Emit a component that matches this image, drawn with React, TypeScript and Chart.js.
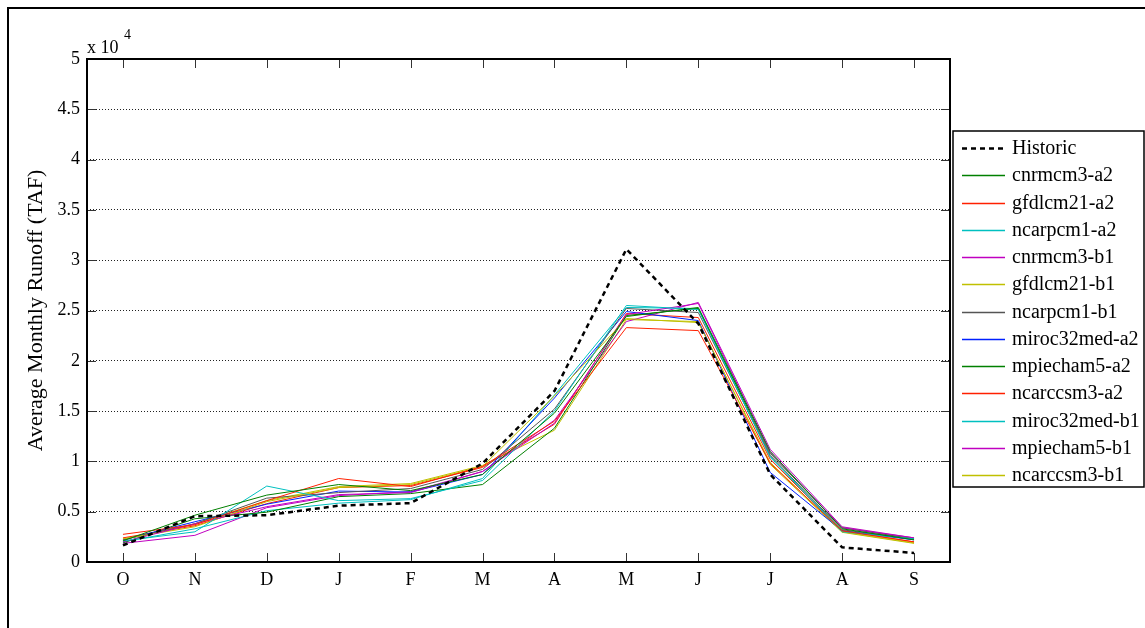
import React, { useEffect, useRef } from "react";
import { Chart, registerables } from "chart.js";

Chart.register(...registerables);

const months = ["O", "N", "D", "J", "F", "M", "A", "M", "J", "J", "A", "S"];

const historic = [1650, 4550, 4650, 5600, 5850, 9800, 17000, 31100, 23700, 8700, 1450, 900];
const cnrmcm3A2 = [2100, 4650, 6650, 7700, 7100, 8700, 14800, 24400, 25300, 11000, 3300, 2200];
const gfdlcm21A2 = [2750, 3700, 6100, 8300, 7500, 9500, 14000, 23300, 23000, 9800, 3100, 2000];
const ncarpcm1A2 = [2100, 3000, 7550, 6100, 6300, 8100, 15000, 25500, 25100, 10400, 3000, 2300];
const cnrmcm3B1 = [2000, 3800, 5500, 6700, 6900, 9000, 13800, 24600, 25700, 10900, 3400, 2400];
const gfdlcm21B1 = [2300, 3500, 6000, 7400, 7700, 9500, 16500, 24200, 23800, 9900, 3000, 1900];
const ncarpcm1B1 = [2200, 3800, 6350, 6900, 7300, 9200, 15200, 25200, 24800, 10600, 3200, 2300];
const miroc32medA2 = [2200, 4000, 5750, 7050, 6950, 8700, 16300, 24900, 24000, 8900, 3100, 2200];
const mpiecham5A2 = [1900, 4300, 4950, 6500, 6800, 7700, 13300, 24500, 25200, 10800, 3400, 2300];
const ncarccsm3A2 = [2400, 3600, 5800, 7400, 7600, 9400, 13700, 24700, 24300, 10200, 3100, 2000];
const miroc32medB1 = [2000, 3300, 5100, 5850, 6200, 8300, 16600, 25300, 25200, 10500, 3100, 2300];
const mpiecham5B1 = [1850, 2650, 5400, 6600, 7000, 9000, 14100, 23900, 25800, 11200, 3500, 2400];
const ncarccsm3B1 = [2300, 3800, 6100, 7500, 7800, 9600, 13100, 24100, 23900, 9700, 2950, 1850];

const seriesNames = [
  "cnrmcm3-a2", "gfdlcm21-a2", "ncarpcm1-a2", "cnrmcm3-b1", "gfdlcm21-b1", "ncarpcm1-b1",
  "miroc32med-a2", "mpiecham5-a2", "ncarccsm3-a2", "miroc32med-b1", "mpiecham5-b1", "ncarccsm3-b1",
];
const seriesValues = [
  cnrmcm3A2, gfdlcm21A2, ncarpcm1A2, cnrmcm3B1, gfdlcm21B1, ncarpcm1B1,
  miroc32medA2, mpiecham5A2, ncarccsm3A2, miroc32medB1, mpiecham5B1, ncarccsm3B1,
];
const seriesColors = [
  "#008000", "#ff2000", "#00c0c0", "#c000c0", "#c0c000", "#555555",
  "#0020ff", "#008000", "#ff2000", "#00c0c0", "#c000c0", "#c0c000",
];

const yTitle = "Average Monthly Runoff (TAF)";
const FONT = "'Liberation Serif', 'Times New Roman', serif";

const decorPlugin = {
  id: "decor",
  afterDraw(chart: any) {
    const { ctx, chartArea: ca } = chart;
    const xs = chart.scales.x;
    const ys = chart.scales.y;
    ctx.save();
    // outer frame
    ctx.fillStyle = "#000";
    ctx.fillRect(7, 7, chart.width - 7, 2);
    ctx.fillRect(7, 7, 2, chart.height - 7);

    // inward ticks
    ctx.strokeStyle = "#333";
    ctx.lineWidth = 1;
    ctx.setLineDash([]);
    ctx.beginPath();
    for (let i = 0; i < months.length; i++) {
      const x = Math.round(xs.getPixelForValue(i)) + 0.5;
      ctx.moveTo(x, ca.bottom);
      ctx.lineTo(x, ca.bottom - 9);
      ctx.moveTo(x, ca.top);
      ctx.lineTo(x, ca.top + 9);
    }
    for (let v = 0; v <= 50000; v += 5000) {
      const y = Math.round(ys.getPixelForValue(v)) + 0.5;
      ctx.moveTo(ca.left, y);
      ctx.lineTo(ca.left + 9, y);
      ctx.moveTo(ca.right, y);
      ctx.lineTo(ca.right - 9, y);
    }
    ctx.stroke();

    // axes box
    ctx.strokeStyle = "#000";
    ctx.lineWidth = 2;
    ctx.strokeRect(ca.left, ca.top, ca.right - ca.left, ca.bottom - ca.top);

    // exponent label
    ctx.fillStyle = "#000";
    ctx.textBaseline = "alphabetic";
    ctx.textAlign = "left";
    ctx.font = `18px ${FONT}`;
    ctx.fillText("x 10", ca.left, ca.top - 6);
    ctx.font = `14px ${FONT}`;
    ctx.fillText("4", ca.left + 37, ca.top - 20);

    // legend
    const lx = ca.right + 3;
    const ly = 131;
    const lw = chart.width - 1 - lx;
    const lh = 356;
    ctx.fillStyle = "#fff";
    ctx.fillRect(lx, ly, lw, lh);
    ctx.strokeStyle = "#000";
    ctx.lineWidth = 1.5;
    ctx.strokeRect(lx, ly, lw, lh);
    const ds = chart.data.datasets;
    ctx.font = `20px ${FONT}`;
    ctx.textBaseline = "middle";
    for (let i = 0; i < ds.length; i++) {
      const y = Math.round(ly + 17 + i * 27.25) + 0.5;
      ctx.beginPath();
      ctx.strokeStyle = ds[i].borderColor;
      ctx.lineWidth = i === 0 ? 2.5 : 1.5;
      ctx.setLineDash(i === 0 ? [5, 4] : []);
      ctx.moveTo(lx + 9, y);
      ctx.lineTo(lx + 52, y);
      ctx.stroke();
      ctx.setLineDash([]);
      ctx.fillStyle = "#000";
      ctx.fillText(ds[i].label, lx + 59, y);
    }
    ctx.restore();
  },
};

export default function App() {
  const ref = useRef<HTMLCanvasElement>(null);
  useEffect(() => {
    if (!ref.current) return;
    const datasets: any[] = [
      {
        label: "Historic",
        data: historic,
        borderColor: "#000",
        borderWidth: 2.5,
        borderDash: [5, 4],
        pointRadius: 0,
        fill: false,
        tension: 0,
      },
      ...seriesNames.map((name, i) => ({
        label: name,
        data: seriesValues[i],
        borderColor: seriesColors[i],
        borderWidth: 1,
        pointRadius: 0,
        fill: false,
        tension: 0,
      })),
    ];
    const chart = new Chart(ref.current, {
      type: "line",
      data: { labels: months, datasets },
      options: {
        animation: false,
        responsive: false,
        layout: { padding: { top: 59, right: 195, bottom: 0, left: 0 } },
        plugins: { legend: { display: false }, tooltip: { enabled: false } },
        scales: {
          x: {
            type: "category",
            offset: true,
            grid: { display: false, drawTicks: false },
            border: { display: false },
            ticks: { color: "#000", font: { family: FONT, size: 18 }, padding: 7, maxRotation: 0 },
            afterFit: (s: any) => { s.height = 66; },
          },
          y: {
            min: 0,
            max: 50000,
            grid: { color: "#222", lineWidth: 1, drawTicks: false, borderDash: [1, 2] },
            border: { display: false, dash: [1, 2] },
            ticks: {
              stepSize: 5000,
              color: "#000",
              font: { family: FONT, size: 18 },
              padding: 7,
              callback: (v: any) => String(Number(v) / 10000),
            },
            title: {
              display: true,
              text: yTitle,
              color: "#000",
              font: { family: FONT, size: 22 },
              padding: { top: 23, bottom: 0 },
            },
            afterFit: (s: any) => { s.width = 87; },
          },
        },
      } as any,
      plugins: [decorPlugin],
    });
    return () => chart.destroy();
  }, []);
  return (
    <div style={{ position: "fixed", left: 0, top: 0, width: 1145, height: 628, background: "#fff" }}>
      <canvas ref={ref} width={1145} height={628} style={{ width: 1145, height: 628, display: "block" }} />
    </div>
  );
}
